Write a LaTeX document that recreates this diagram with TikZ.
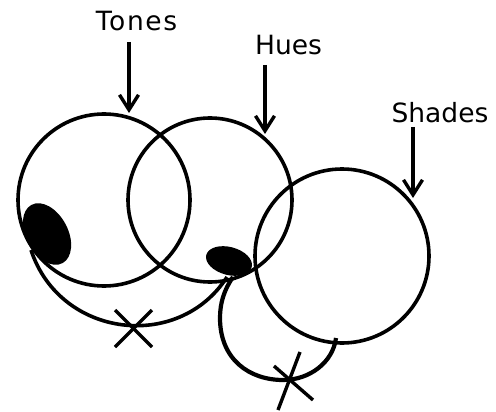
\documentclass[tikz,border=0pt]{standalone}
\usepackage{fontspec}
\setmainfont{DejaVu Sans}
\usetikzlibrary{shapes.geometric,arrows.meta}
\begin{document}
\begin{tikzpicture}[x=1pt,y=-1pt,
  ring/.style={circle,draw,line width=3.6pt,inner sep=0pt},
  blob/.style={ellipse,fill=black,inner sep=0pt},
  lbl/.style={anchor=base,inner sep=0pt,font=\fontsize{26.5}{30}\selectfont},
  pointer/.style={line width=4pt,-{Straight Barb[length=15pt,width=19pt,line width=3.4pt]}},
  thin/.style={line width=3.6pt},
  rough/.style={line width=4.2pt},
  crossline/.style={line width=3.4pt}]
\useasboundingbox (0,0) rectangle (496,412);
% circles
\node[ring,minimum size=172pt] (c1) at (104,200) {};
\node[ring,minimum size=164pt] (c2) at (210,200) {};
\node[ring,minimum size=174pt] (c3) at (342,256) {};
% blobs
\node[blob,minimum width=42pt,minimum height=66pt,rotate=28] (b1) at (47,234) {};
\node[blob,minimum width=47pt,minimum height=28pt,rotate=-15] (b2) at (229,261) {};
% labels
\node[lbl] (tones) at (136.5,31) {\addfontfeature{LetterSpace=6}Tones};
\node[lbl] (hues) at (288.5,55) {Hues};
\node[lbl] (shades) at (440,123) {Shades};
% arrows
\coordinate (ta) at (129,42); \coordinate (tb) at (129,113);
\coordinate (ha) at (265,65); \coordinate (hb) at (265,134);
\coordinate (sa) at (413,127); \coordinate (sb) at (413,198);
\draw[pointer] (ta) -- (tb);
\draw[pointer] (ha) -- (hb);
\draw[pointer] (sa) -- (sb);
% lower arc between blobs
\coordinate (a1s) at (31,250); \coordinate (a1e) at (227,277);
\draw[thin] (a1s) .. controls (60,338) and (178.7,352.2) .. (a1e);
% rough arc from blob 2 to circle 3
\coordinate (a2s) at (233,277); \coordinate (a2m) at (220,318);
\coordinate (a2b) at (283,380); \coordinate (a2e) at (336,338);
\draw[rough] (a2s) .. controls (224,290) and (220,303) .. (a2m)
  .. controls (220,360) and (250,380) .. (a2b)
  .. controls (310,380) and (333,362) .. (a2e);
% crosses
\coordinate (x1a) at (115,310); \coordinate (x1b) at (152,347);
\coordinate (x1c) at (115,347); \coordinate (x1d) at (152,310);
\draw[crossline] (x1a) -- (x1b);
\draw[crossline] (x1c) -- (x1d);
\coordinate (x2a) at (300,352); \coordinate (x2b) at (278,410);
\coordinate (x2c) at (274,366); \coordinate (x2d) at (313,400);
\draw[crossline] (x2a) -- (x2b);
\draw[crossline] (x2c) -- (x2d);
\end{tikzpicture}
\end{document}
